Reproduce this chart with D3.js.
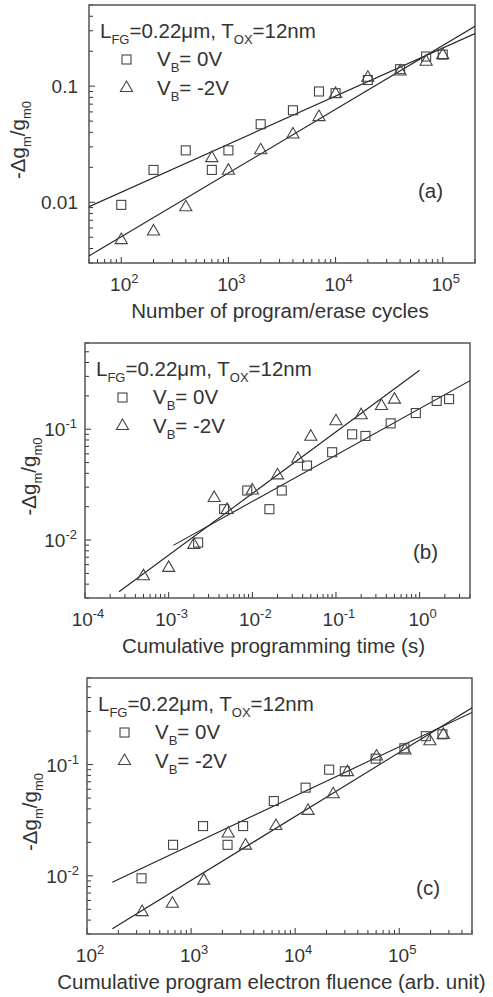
<!DOCTYPE html>
<html>
<head>
<meta charset="utf-8">
<script src="https://cdn.jsdelivr.net/npm/d3@7"></script>
<style>
  body { margin: 0; background: #fff; }
  svg text { font-family: "Liberation Sans", Arial, sans-serif; fill: #333; }
</style>
</head>
<body>
<div id="chart"></div>
<script>
// measured data (shared y values for all three panels)
var cycles = [100, 200, 400, 700, 1000, 2000, 4000, 7000, 10000, 20000, 40000, 70000, 100000]
var sqY = [0.0095, 0.019, 0.028, 0.019, 0.028, 0.047, 0.062, 0.09, 0.087, 0.113, 0.14, 0.18, 0.187]
var triY = [0.0048, 0.0057, 0.0092, 0.0244, 0.019, 0.0285, 0.039, 0.055, 0.087, 0.12, 0.136, 0.165, 0.188]

var sqTime = [0.00225, 0.0046, 0.0087, 0.016, 0.0225, 0.045, 0.09, 0.156, 0.225, 0.45, 0.9, 1.6, 2.25]
var triTime = [0.0005, 0.001, 0.002, 0.0035, 0.005, 0.01, 0.02, 0.035, 0.05, 0.1, 0.2, 0.35, 0.5]

var sqFluence = [334, 671, 1303, 2240, 3162, 6237, 12600, 21200, 30000, 59300, 112000, 180000, 260000]
var triFluence = [338, 661, 1325, 2270, 3334, 6530, 13300, 23200, 31800, 60500, 113500, 197000, 265000]

// fitted lines, endpoints [x, y]
var fitA0 = [[50, 0.00916], [2e5, 0.284]]
var fitA2 = [[50, 0.00345], [2e5, 0.328]]
var fitB0 = [[1.135e-3, 0.00895], [4, 0.274]]
var fitB2 = [[2.55e-4, 0.00342], [1, 0.341]]
var fitC0 = [[175, 0.00877], [5e5, 0.294]]
var fitC2 = [[175, 0.00334], [5e5, 0.324]]

var xTicksA = [1e2, 1e3, 1e4, 1e5]
var xTicksB = [1e-4, 1e-3, 1e-2, 1e-1, 1e0]
var xTicksC = [1e2, 1e3, 1e4, 1e5]

var W = 493, H = 997
var ink = "#333"

var svg = d3.select("#chart").append("svg")
    .attr("width", W)
    .attr("height", H)

function powLabel(sel, v) {
    var e = Math.round(Math.log10(v))
    sel.append("tspan").text("10")
    sel.append("tspan").text(e)
        .attr("dy", -8)
        .style("font-size", "13px")
}

function drawPanel(p) {
    var g = svg.append("g")
    var x = d3.scaleLog().domain(p.xDomain).range([p.left, p.right])
    var y = d3.scaleLog().domain(p.yDomain).range([p.bottom, p.top])

    var clipId = "clip" + p.key
    g.append("clipPath").attr("id", clipId)
        .append("rect")
        .attr("x", p.left).attr("y", p.top)
        .attr("width", p.right - p.left).attr("height", p.bottom - p.top)

    // minor + major ticks, inward on bottom and left
    function logTicks(dom) {
        var out = []
        var lo = Math.floor(Math.log10(dom[0])), hi = Math.ceil(Math.log10(dom[1]))
        for (var e = lo; e <= hi; e++) {
            for (var m = 1; m < 10; m++) {
                var v = m * Math.pow(10, e)
                if (v >= dom[0] * 0.999 && v <= dom[1] * 1.001) out.push({ v: v, major: m == 1 })
            }
        }
        return out
    }
    var xAll = logTicks(p.xDomain)
    var yAll = logTicks(p.yDomain)

    g.selectAll(".xt").data(xAll).enter().append("line")
        .attr("x1", d => x(d.v)).attr("x2", d => x(d.v))
        .attr("y1", p.bottom).attr("y2", d => p.bottom - (d.major ? 6 : 4))
        .attr("stroke", ink).attr("stroke-width", 1)

    g.selectAll(".yt").data(yAll).enter().append("line")
        .attr("y1", d => y(d.v)).attr("y2", d => y(d.v))
        .attr("x1", p.left).attr("x2", d => p.left + (d.major ? 6 : 4))
        .attr("stroke", ink).attr("stroke-width", 1)

    // frame
    g.append("rect")
        .attr("x", p.left).attr("y", p.top)
        .attr("width", p.right - p.left).attr("height", p.bottom - p.top)
        .attr("fill", "none").attr("stroke", "#555").attr("stroke-width", 1.5)

    // x tick labels
    p.xTicks.forEach(function (t) {
        var txt = g.append("text")
            .attr("x", x(t) + 3).attr("y", p.bottom + 28)
            .attr("text-anchor", "middle")
            .style("font-size", "19px")
        powLabel(txt, t)
    })

    // y tick labels
    p.yTicks.forEach(function (t) {
        var txt = g.append("text")
            .attr("x", p.left - (p.yPow ? 8 : 11)).attr("y", y(t) + 7)
            .attr("text-anchor", "end")
            .style("font-size", "19px")
        if (p.yPow) powLabel(txt, t)
        else txt.text(t)
    })

    // axis titles
    g.append("text")
        .attr("x", (p.left + p.right) / 2 + p.xTitleShift).attr("y", p.bottom + 55)
        .attr("text-anchor", "middle")
        .style("font-size", "20.5px")
        .text(p.xTitle)

    var yt = g.append("text")
        .attr("transform", "translate(" + p.yTitleX + "," + ((p.top + p.bottom) / 2 + 6) + ") rotate(-90)")
        .attr("text-anchor", "middle")
        .style("font-size", "20.5px")
    yt.append("tspan").text("-Δg")
    yt.append("tspan").text("m").attr("dy", 6).style("font-size", "13px")
    yt.append("tspan").text("/g").attr("dy", -6)
    yt.append("tspan").text("m0").attr("dy", 6).style("font-size", "13px")

    // fit lines
    var line = d3.line().x(d => x(d[0])).y(d => y(d[1]))
    var plot = g.append("g").attr("clip-path", "url(#" + clipId + ")")
    ;[p.fit0, p.fit2].forEach(function (f) {
        plot.append("path").datum(f)
            .attr("d", line)
            .attr("fill", "none").attr("stroke", "#222").attr("stroke-width", 1.1)
    })

    // markers
    var sqData = p.sqX.map((v, i) => [v, sqY[i]])
    var triData = p.triX.map((v, i) => [v, triY[i]])
    g.selectAll(".sq").data(sqData).enter().append("rect")
        .attr("x", d => x(d[0]) - 4.5).attr("y", d => y(d[1]) - 4.5)
        .attr("width", 9).attr("height", 9)
        .attr("fill", "none").attr("stroke", "#444").attr("stroke-width", 1.1)
    var tri = d3.symbol().type(d3.symbolTriangle).size(64)
    g.selectAll(".tri").data(triData).enter().append("path")
        .attr("d", tri)
        .attr("transform", d => "translate(" + x(d[0]) + "," + (y(d[1]) + 0.8) + ")")
        .attr("fill", "none").attr("stroke", "#444").attr("stroke-width", 1.1)

    // legend
    var lx = p.left + 11, ly = p.top + 33
    var t1 = g.append("text").attr("x", lx).attr("y", ly).style("font-size", "20.5px")
    t1.append("tspan").text("L")
    t1.append("tspan").text("FG").attr("dy", 6).style("font-size", "13px")
    t1.append("tspan").text("=0.22μm, T").attr("dy", -6)
    t1.append("tspan").text("OX").attr("dy", 6).style("font-size", "13px")
    t1.append("tspan").text("=12nm").attr("dy", -6)

    g.append("rect")
        .attr("x", lx + 22).attr("y", ly + 17)
        .attr("width", 9).attr("height", 9)
        .attr("fill", "none").attr("stroke", "#444").attr("stroke-width", 1.1)
    g.append("path").attr("d", tri)
        .attr("transform", "translate(" + (lx + 26.5) + "," + (ly + 50) + ")")
        .attr("fill", "none").attr("stroke", "#444").attr("stroke-width", 1.1)

    ;[["= 0V", 28], ["= -2V", 57]].forEach(function (r) {
        var t = g.append("text").attr("x", lx + 57).attr("y", ly + r[1]).style("font-size", "20.5px")
        t.append("tspan").text("V")
        t.append("tspan").text("B").attr("dy", 6).style("font-size", "13px")
        t.append("tspan").text(r[0]).attr("dy", -6)
    })

    // panel label
    g.append("text")
        .attr("x", p.right - 32).attr("y", p.labelY)
        .attr("text-anchor", "end")
        .style("font-size", "20.5px")
        .text(p.name)
}

drawPanel({
    key: "a", name: "(a)", left: 89, right: 475, top: 5, bottom: 263,
    xDomain: [50, 2e5], yDomain: [0.003, 0.5],
    xTicks: xTicksA, yTicks: [0.1, 0.01], yPow: false, yTitleX: 25,
    sqX: cycles, triX: cycles, fit0: fitA0, fit2: fitA2,
    xTitle: "Number of program/erase cycles", xTitleShift: -2, labelY: 198
})

drawPanel({
    key: "b", name: "(b)", left: 85, right: 470, top: 343, bottom: 598,
    xDomain: [1e-4, 4], yDomain: [0.003, 0.6],
    xTicks: xTicksB, yTicks: [0.1, 0.01], yPow: true, yTitleX: 36,
    sqX: sqTime, triX: triTime, fit0: fitB0, fit2: fitB2,
    xTitle: "Cumulative programming time (s)", xTitleShift: -4, labelY: 559
})

drawPanel({
    key: "c", name: "(c)", left: 87, right: 472, top: 678, bottom: 934,
    xDomain: [100, 5e5], yDomain: [0.003, 0.6],
    xTicks: xTicksC, yTicks: [0.1, 0.01], yPow: true, yTitleX: 37,
    sqX: sqFluence, triX: triFluence, fit0: fitC0, fit2: fitC2,
    xTitle: "Cumulative program electron fluence (arb. unit)", xTitleShift: -8, labelY: 895
})
</script>
</body>
</html>
